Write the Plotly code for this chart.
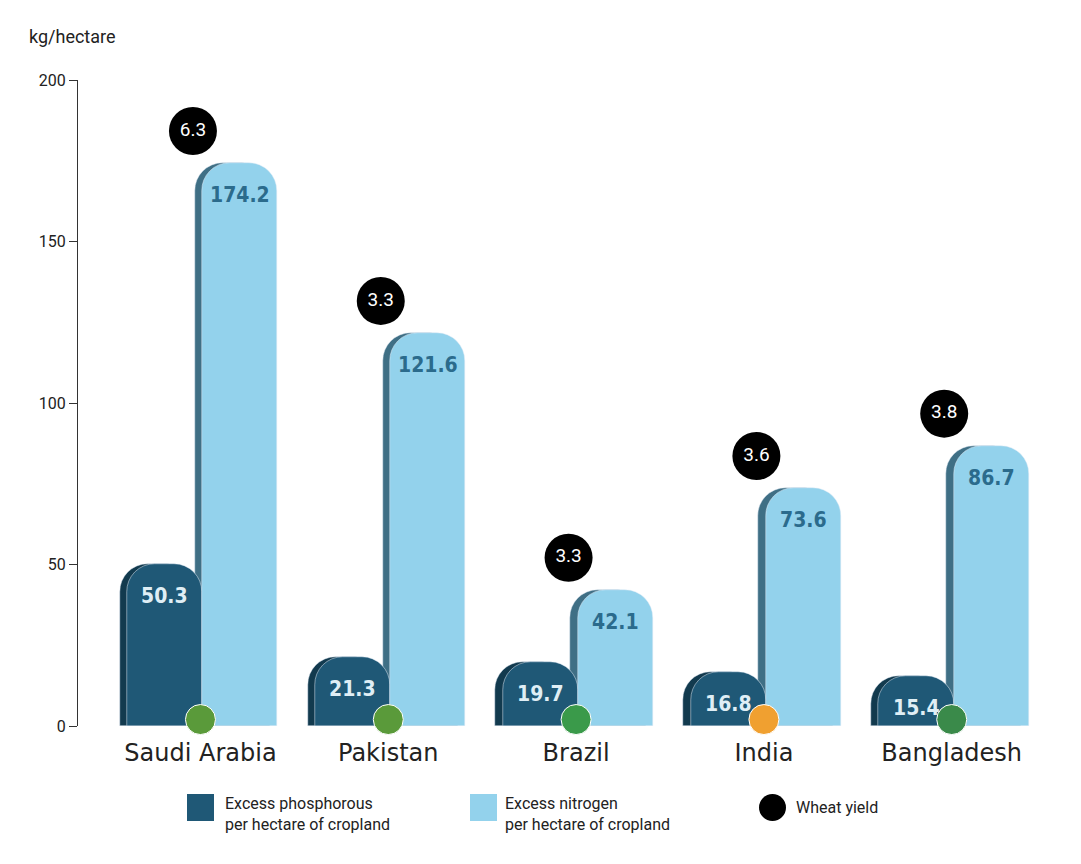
import plotly.graph_objects as go

countries = ["Saudi Arabia", "Pakistan", "Brazil", "India", "Bangladesh"]
phosphorus = [50.3, 21.3, 19.7, 16.8, 15.4]
nitrogen = [174.2, 121.6, 42.1, 73.6, 86.7]
wheat_yield = [6.3, 3.3, 3.3, 3.6, 3.8]
flag_colors = ["#5a9a3a", "#5a9a3a", "#3a9a4a", "#f0a030", "#3a8a4a"]

DARK = "#1f5876"
DARK_SH = "#123a4e"
LIGHT = "#93d2ec"
LIGHT_SH = "#3f6f85"

xs = list(range(len(countries)))
fig = go.Figure()
fig.add_bar(x=[i - 0.23 for i in xs], y=phosphorus, width=0.4, marker=dict(color=DARK_SH, cornerradius=28),
            hoverinfo="skip", showlegend=False)
fig.add_bar(x=[i + 0.17 for i in xs], y=nitrogen, width=0.4, marker=dict(color=LIGHT_SH, cornerradius=28),
            hoverinfo="skip", showlegend=False)
fig.add_bar(x=[i - 0.19 for i in xs], y=phosphorus, width=0.4, marker=dict(color=DARK, cornerradius=28),
            showlegend=False)
fig.add_bar(x=[i + 0.21 for i in xs], y=nitrogen, width=0.4, marker=dict(color=LIGHT, cornerradius=28),
            showlegend=False)
fig.add_scatter(x=[i - 0.04 for i in xs], y=[n + 10 for n in nitrogen], mode="markers+text",
                marker=dict(size=48, color="black"), text=[f"{w}" for w in wheat_yield],
                textfont=dict(color="white", size=19, family="Roboto"), textposition="middle center",
                showlegend=False)
fig.add_scatter(x=xs, y=[2] * 5, mode="markers", marker=dict(size=30, color=flag_colors,
                line=dict(color="white", width=1)), showlegend=False, cliponaxis=False)

for i in xs:
    fig.add_annotation(x=i - 0.19, y=phosphorus[i], yshift=-32, text=f"<b>{phosphorus[i]}</b>", showarrow=False,
                       font=dict(family="DejaVu Sans Condensed", size=21, color="#dfeef5"))
    fig.add_annotation(x=i + 0.21, y=nitrogen[i], yshift=-32, text=f"<b>{nitrogen[i]}</b>", showarrow=False,
                       font=dict(family="DejaVu Sans Condensed", size=21, color="#2b6b8c"))

fig.add_annotation(xref="paper", yref="paper", x=-0.053, y=1.048, xanchor="left", yanchor="bottom",
                   text="kg/hectare", showarrow=False, font=dict(size=18, color="#222", family="Roboto"))

Y0 = lambda py: -(py - 726) / 646
X0 = lambda px: (px - 78) / 962
fig.add_shape(type="rect", xref="paper", yref="paper", x0=X0(187), x1=X0(214),
              y0=Y0(821), y1=Y0(794), fillcolor=DARK, line=dict(width=0))
fig.add_shape(type="rect", xref="paper", yref="paper", x0=X0(470), x1=X0(497),
              y0=Y0(821), y1=Y0(794), fillcolor=LIGHT, line=dict(width=0))
fig.add_shape(type="circle", xref="paper", yref="paper", x0=X0(759), x1=X0(786),
              y0=Y0(821), y1=Y0(794), fillcolor="black", line=dict(width=0))
for px, py, txt in [(223, 814, "Excess phosphorous<br>per hectare of cropland"),
                    (503, 814, "Excess nitrogen<br>per hectare of cropland"),
                    (794, 808, "Wheat yield")]:
    fig.add_annotation(xref="paper", yref="paper", x=X0(px), y=Y0(py), xanchor="left",
                       yanchor="middle", align="left", text=txt, showarrow=False,
                       font=dict(size=16, color="#222", family="Roboto"))

fig.update_layout(
    width=1065, height=848, barmode="overlay", bargap=0,
    plot_bgcolor="white", paper_bgcolor="white",
    margin=dict(l=70, r=33, t=72, b=130),
    font=dict(family="Roboto", color="#222"),
)
fig.update_xaxes(range=[-0.652, 4.47], tickvals=xs, ticktext=countries, showgrid=False, zeroline=False,
                 tickfont=dict(size=24, family="DejaVu Sans", color="#222"), ticks="", showline=False,
                 ticklabelstandoff=10)
fig.update_yaxes(range=[0, 200], tickvals=[0, 50, 100, 150, 200], showgrid=False, zeroline=False,
                 showline=True, linecolor="#333", ticks="outside", ticklen=8, tickcolor="#333",
                 tickfont=dict(size=16, family="Roboto"))
fig.write_html("out.html")
